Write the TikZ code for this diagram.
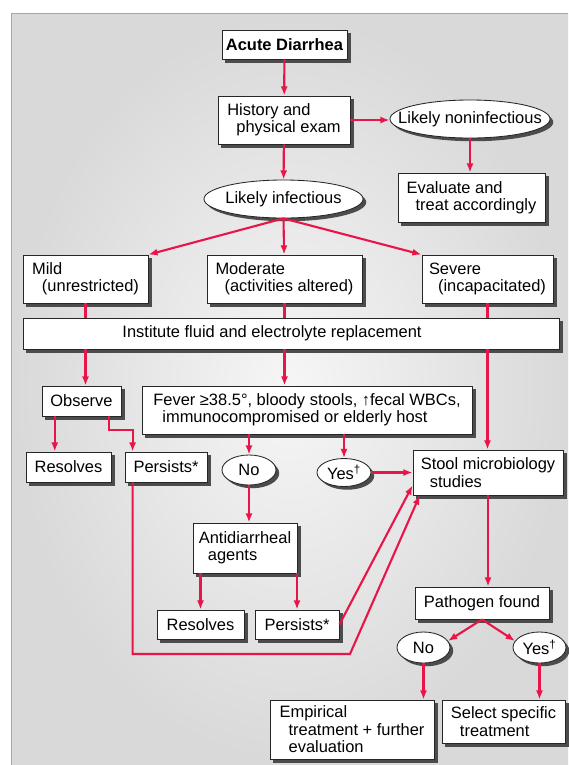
\documentclass[tikz,border=0pt]{standalone}
\usepackage{fontspec}
\setmainfont{Liberation Sans}
\usetikzlibrary{arrows.meta, positioning, shapes.geometric, calc}
\definecolor{flowred}{RGB}{232,22,72}
\pgfdeclarelayer{panel}
\pgfdeclarelayer{shadow}
\pgfsetlayers{panel,shadow,main}
\newcommand{\slim}[1]{\makebox[0pt]{#1}}
\tikzset{%
  box/.style={draw=black!85, fill=white, line width=0.6pt, align=left, inner sep=0pt},
  oval/.style={box, ellipse},
  dark/.style={fill=black!70},
  link/.style={draw=flowred, line width=1.5pt},
  move/.style={link, ->},
  >={Latex[length=6.5pt,width=5pt]}
}

\begin{document}
\begin{tikzpicture}[x=0.025cm, y=-0.025cm, font=\fontsize{11.7}{12.4}\selectfont]
  \useasboundingbox (0,0) rectangle (568,765);
  \begin{pgfonlayer}{panel}
    \shade[inner color=gray!7, outer color=gray!30] (11,13) rectangle (568,765);
    \draw[gray!70, line width=0.6pt] (11,765) -- (11,13) -- (568,13);
  \end{pgfonlayer}

  % top part
  \node[box, minimum width=3.125cm, minimum height=0.725cm] (diarrhea) at (284.5,44.5) {\textbf{Acute Diarrhea}};
  \node[box, minimum width=3.3cm, minimum height=1.2cm] (history) at (284,120)
    {History and\\\hspace*{.55em}physical exam};
  \node[oval, minimum width=4cm, minimum height=0.95cm] (noninf) at (470,119) {\slim{Likely noninfectious}};
  \node[box, minimum width=3.675cm, minimum height=1.225cm] (evaluate) at (471.5,197.5)
    {Evaluate and\\\hspace*{.55em}treat accordingly};
  \node[oval, minimum width=3.975cm, minimum height=0.95cm] (infect) at (283.5,199) {\slim{Likely infectious}};

  % severity
  \node[box, minimum width=3.125cm, minimum height=1.2cm] (mild) at (85.5,279)
    {Mild\\\hspace*{.6em}(unrestricted)};
  \node[box, minimum width=3.875cm, minimum height=1.2cm] (moderate) at (284.5,279)
    {Moderate\\\hspace*{.55em}(activities altered)};
  \node[box, minimum width=3.275cm, minimum height=1.2cm] (severe) at (487.5,279)
    {Severe\\\hspace*{.55em}(incapacitated)};
  \node[box, minimum width=13.4cm, minimum height=0.775cm] (fluid) at (291,333.5)
    {Institute fluid and electrolyte replacement\kern27pt};

  % middle part
  \node[box, minimum width=1.975cm, minimum height=0.75cm] (observe) at (81.5,401) {Observe};
  \node[box, minimum width=8.25cm, minimum height=1.2cm] (fever) at (307,410)
    {Fever ≥38.5°, bloody stools, ↑fecal WBCs,\\\hspace*{.55em}immunocompromised or elderly host};
  \node[box, minimum width=2.125cm, minimum height=0.75cm] (resolvesA) at (68.5,467) {Resolves};
  \node[box, minimum width=2.05cm, minimum height=0.75cm] (persistsA) at (166,467) {Persists*};
  \node[oval, minimum width=1.35cm, minimum height=0.75cm] (noA) at (249,470) {No};
  \node[oval, minimum width=1.35cm, minimum height=0.7cm] (yesA) at (344,472.5) {Yes\textsuperscript{†}};
  \node[box, minimum width=3.75cm, minimum height=1.125cm] (stool) at (488,472.5)
    {Stool microbiology\\\hspace*{.55em}studies};
  \node[box, minimum width=2.6cm, minimum height=1.25cm] (antidiarrheal) at (245,548)
    {Antidiarrheal\\\hspace*{.55em}agents};
  \node[box, minimum width=2.175cm, minimum height=0.725cm] (resolvesB) at (200.5,624.5) {Resolves};
  \node[box, minimum width=2.1cm, minimum height=0.725cm] (persistsB) at (297,624.5) {Persists*};

  % bottom part
  \node[box, minimum width=3.35cm, minimum height=0.8cm] (pathogen) at (482,603) {Pathogen found};
  \node[oval, minimum width=1.325cm, minimum height=0.775cm] (noB) at (423.5,647.5) {No};
  \node[oval, minimum width=1.325cm, minimum height=0.775cm] (yesB) at (539.5,647.5) {Yes\textsuperscript{†}};
  \node[box, minimum width=4.1cm, minimum height=1.475cm] (empirical) at (352,729.5)
    {Empirical\\\hspace*{.55em}treatment + further\\\hspace*{.55em}evaluation};
  \node[box, minimum width=3.075cm, minimum height=1.075cm] (select) at (503.5,721.5)
    {Select specific\\\hspace*{.55em}treatment};
  \coordinate (detour) at (350,654);

  % shadows
  \begin{pgfonlayer}{shadow}
    \foreach \n in {diarrhea,history,evaluate,mild,moderate,severe,fluid,observe,fever,
        resolvesA,persistsA,stool,antidiarrheal,resolvesB,persistsB,pathogen,empirical,select}
      \fill[dark] ([shift={(2.3pt,-2.3pt)}]\n.south west) rectangle ([shift={(2.3pt,-2.3pt)}]\n.north east);
    \fill[dark] ([shift={(2.3pt,-2.3pt)}]noninf.center) ellipse [x radius=2cm, y radius=0.475cm];
    \fill[dark] ([shift={(2.3pt,-2.3pt)}]infect.center) ellipse [x radius=1.9875cm, y radius=0.475cm];
    \fill[dark] ([shift={(2.3pt,-2.3pt)}]noA.center) ellipse [x radius=0.675cm, y radius=0.375cm];
    \fill[dark] ([shift={(2.3pt,-2.3pt)}]yesA.center) ellipse [x radius=0.675cm, y radius=0.35cm];
    \fill[dark] ([shift={(2.3pt,-2.3pt)}]noB.center) ellipse [x radius=0.6625cm, y radius=0.3875cm];
    \fill[dark] ([shift={(2.3pt,-2.3pt)}]yesB.center) ellipse [x radius=0.6625cm, y radius=0.3875cm];
  \end{pgfonlayer}

  % connectors
  \draw[move] (diarrhea) -- (history);
  \draw[move] (history.east) -- (history.east -| noninf.west);
  \draw[move] (noninf) -- (noninf |- evaluate.north);
  \draw[move] (history) -- (infect);
  \draw[move] (infect.south) -- (mild.north east);
  \draw[move] (infect.south) -- (moderate);
  \draw[move] (infect.south) -- (severe.north west);
  \draw[link] (mild) -- (mild |- fluid.north);
  \draw[move] (mild |- fluid.south) -- (mild |- observe.north);
  \draw[link] (moderate) -- (moderate |- fluid.north);
  \draw[move] (moderate |- fluid.south) -- (moderate |- fever.north);
  \draw[link] (severe) -- (severe |- fluid.north);
  \draw[move] (severe |- fluid.south) -- (severe |- stool.north);
  \draw[move] ([xshift=.33cm]observe.south west) coordinate (obsleft) -- (obsleft |- resolvesA.north);
  \draw[move] ([xshift=-.3cm]observe.south east) -- ++(0,14) -| ([xshift=.2cm]persistsA.north west);
  \draw[move] (noA |- fever.south) -- (noA);
  \draw[move] (yesA |- fever.south) -- (yesA);
  \draw[move] (yesA.east) -- (yesA.east -| stool.west);
  \draw[move] (noA) -- (noA |- antidiarrheal.north);
  \draw[move] (resolvesB |- antidiarrheal.south) -- (resolvesB);
  \draw[move] (persistsB |- antidiarrheal.south) -- (persistsB);
  \draw[move] (persistsB.east) -- ([yshift=.25cm]stool.south west);
  \draw[move] ([xshift=.2cm]persistsA.south west) |- (detour) -- ([xshift=.18cm]stool.south west);
  \draw[move] (stool) -- (stool |- pathogen.north);
  \draw[move] (pathogen.south) -- (noB.15);
  \draw[move] (pathogen.south) -- (yesB.165);
  \draw[move] (noB) -- (noB |- empirical.north);
  \draw[move] (yesB) -- (yesB |- select.north);
\end{tikzpicture}
\end{document}
